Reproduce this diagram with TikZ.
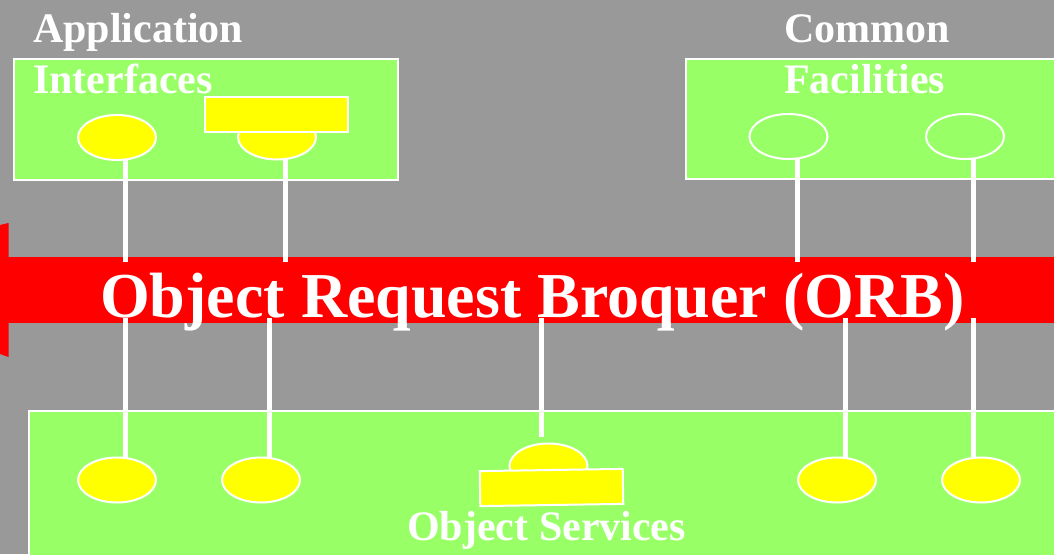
\documentclass[tikz,border=0pt]{standalone}
\usepackage{fontspec}
\setmainfont{Liberation Serif}
\usetikzlibrary{shapes.geometric}
\definecolor{bggray}{HTML}{999999}
\definecolor{boxgreen}{HTML}{99FF66}
\definecolor{plugyellow}{HTML}{FFFF00}
\definecolor{orbred}{HTML}{FF0000}

\begin{document}
\begin{tikzpicture}[x=1pt,y=-1pt,
  panel/.style={rectangle, draw=white, line width=2pt, fill=boxgreen, inner sep=0pt, anchor=north west},
  plug/.style={ellipse, draw=white, line width=2pt, fill=plugyellow,
    minimum width=78pt, minimum height=45pt, inner sep=0pt},
  socket/.style={plug, fill=boxgreen},
  tab/.style={rectangle, draw=white, line width=2pt, fill=plugyellow,
    minimum width=143pt, minimum height=35pt, inner sep=0pt},
  wire/.style={draw=white, line width=5pt},
  caption/.style={text=white, inner sep=0pt, align=left, anchor=base west,
    font=\bfseries\fontsize{42}{51}\selectfont},
]
% canvas
\clip (0,0) rectangle (1054,554);
\fill[bggray] (0,0) rectangle (1054,554);

% panels
\node[panel, minimum width=384pt, minimum height=121pt] (apibox) at (13,58) {};
\node[panel, minimum width=400pt, minimum height=120pt] (cfbox) at (685,58) {};
\node[panel, minimum width=1060pt, minimum height=160pt] (osbox) at (28,410) {};

% ORB bus
\fill[orbred] (0,225) -- (8.5,223) -- (8.5,357) -- (0,354) -- cycle;
\node[rectangle, fill=orbred, inner sep=0pt, anchor=north west,
  minimum width=1060pt, minimum height=66pt] (orb) at (0,257) {};

% wire ends on the bus
\coordinate (t1) at (125,262);
\coordinate (t2) at (285,262);
\coordinate (t3) at (797,262);
\coordinate (t4) at (973,262);
\coordinate (b1) at (125,318);
\coordinate (b2) at (269,318);
\coordinate (b3) at (541,318);
\coordinate (b4) at (845,318);
\coordinate (b5) at (973,318);
\coordinate (b3end) at (541,437);

% component positions
\coordinate (pa1) at (117,137.5);
\coordinate (pa2) at (277,137);
\coordinate (pc1) at (788.5,136.5);
\coordinate (pc2) at (965,136.5);
\coordinate (ps1) at (117,480);
\coordinate (ps2) at (261,480);
\coordinate (ps3) at (548.5,466);
\coordinate (ps4) at (837,480);
\coordinate (ps5) at (981,480);

% wires
\draw[wire] (pa1 -| t1) -- (t1);
\draw[wire] (pa2 -| t2) -- (t2);
\draw[wire] (pc1 -| t3) -- (t3);
\draw[wire] (pc2 -| t4) -- (t4);
\draw[wire] (b1) -- (b1 |- ps1);
\draw[wire] (b2) -- (b2 |- ps2);
\draw[wire] (b3) -- (b3end);
\draw[wire] (b4) -- (b4 |- ps4);
\draw[wire] (b5) -- (b5 |- ps5);

% application interfaces
\node[plug] (a1) at (pa1) {};
\node[plug] (a2) at (pa2) {};
\node[tab] (a2tab) at (276.5,114.5) {};

% common facilities
\node[socket] (c1) at (pc1) {};
\node[socket] (c2) at (pc2) {};

% object services
\node[plug] (s1) at (ps1) {};
\node[plug] (s2) at (ps2) {};
\node[plug] (s3) at (ps3) {};
\node[tab, rotate=0.9] (s3tab) at (551.5,487.5) {};
\node[plug] (s4) at (ps4) {};
\node[plug] (s5) at (ps5) {};

% labels (base anchor sits on the last line)
\node[caption] (apilabel) at (33,93) {Application\\Interfaces};
\node[caption] (cflabel) at (784,93) {Common\\Facilities};
\node[caption] (oslabel) at (407,540) {Object Services};
\node[caption, font=\bfseries\fontsize{64}{70}\selectfont] (orblabel) at (100,317)
  {Object Request Broquer (ORB)};
\end{tikzpicture}
\end{document}
